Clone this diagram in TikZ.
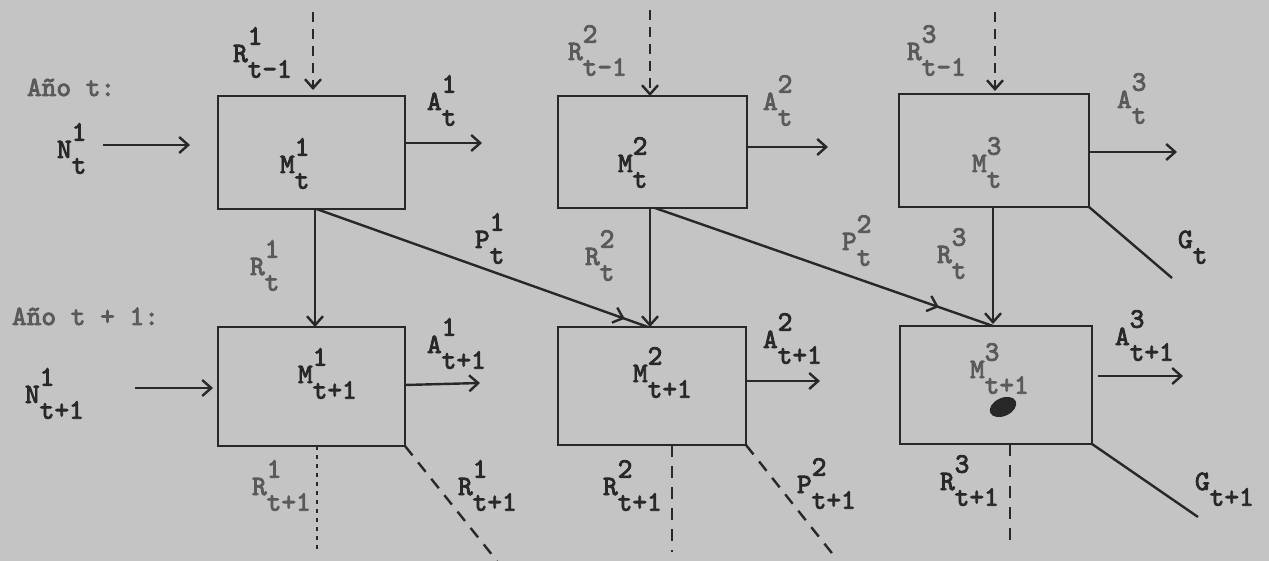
\documentclass[tikz,border=0pt]{standalone}
\usepackage{fontspec}
\newfontfamily\twfont[FakeBold=3]{lmmono10-regular.otf}
\usetikzlibrary{arrows.meta,decorations.markings}
\definecolor{paper}{RGB}{196,196,196}
\definecolor{ink}{RGB}{40,40,40}
\definecolor{inkg}{RGB}{90,90,90}
\newcommand{\tlab}[3]{#1\rlap{\raisebox{0.62em}{#2}}\raisebox{-0.56em}{#3}}
\begin{document}
\begin{tikzpicture}[x=1pt,y=-1pt,
  box/.style={draw=ink, line width=2.6pt, inner sep=0pt, outer sep=0pt},
  lab/.style={anchor=base west, inner sep=0pt, outer sep=0pt, text=ink,
    font=\twfont\fontsize{28pt}{32pt}\selectfont},
  tip/.style={-{Straight Barb[length=9pt,width=16pt]}},
  flow/.style={draw=ink, line width=2.4pt, tip},
  plain/.style={draw=ink, line width=2.4pt},
  dflow/.style={flow, dash pattern=on 10pt off 7pt},
  dline/.style={plain, dash pattern=on 12pt off 9pt},
  dotline/.style={plain, dash pattern=on 4pt off 5pt},
  midarrow/.style={decoration={markings, mark=at position #1 with
    {\arrow{Straight Barb[length=9pt,width=16pt]}}}, postaction=decorate}]
\useasboundingbox[fill=paper] (0,0) rectangle (1269,561);

% boxes
\node[box, minimum width=187pt, minimum height=113pt] (b1t) at (311.5,152.5) {};
\node[box, minimum width=189pt, minimum height=112pt] (b2t) at (652.5,152) {};
\node[box, minimum width=190pt, minimum height=113pt] (b3t) at (994,150.5) {};
\node[box, minimum width=187pt, minimum height=119pt] (b1b) at (311.5,386.5) {};
\node[box, minimum width=188pt, minimum height=118pt] (b2b) at (652,386) {};
\node[box, minimum width=192pt, minimum height=118pt] (b3b) at (996,385) {};

% labels, year t
\node[lab, text=inkg] (yt) at (27,96) {Año t:};
\node[lab] (n1t) at (57,158) {\tlab{N}{1}{t}};
\node[lab] (r1tm) at (233,62) {\tlab{R}{1}{t-1}};
\node[lab] (a1t) at (427,110) {\tlab{A}{1}{t}};
\node[lab] (m1t) at (280,173) {\tlab{M}{1}{t}};
\node[lab, text=inkg] (r2tm) at (568,60) {\tlab{R}{2}{t-1}};
\node[lab, text=inkg] (a2t) at (763,110) {\tlab{A}{2}{t}};
\node[lab] (m2t) at (618,172) {\tlab{M}{2}{t}};
\node[lab, text=inkg] (r3tm) at (907,60) {\tlab{R}{3}{t-1}};
\node[lab, text=inkg] (a3t) at (1117,108) {\tlab{A}{3}{t}};
\node[lab, text=inkg] (m3t) at (972,172) {\tlab{M}{3}{t}};
\node[lab] (gt) at (1178,248) {\tlab{G}{}{t}};
\node[lab, text=inkg] (r1t) at (250,275) {\tlab{R}{1}{t}};
\node[lab] (p1t) at (475,248) {\tlab{P}{1}{t}};
\node[lab, text=inkg] (r2t) at (585,265) {\tlab{R}{2}{t}};
\node[lab, text=inkg] (p2t) at (842,250) {\tlab{P}{2}{t}};
\node[lab, text=inkg] (r3t) at (937,263) {\tlab{R}{3}{t}};

% labels, year t+1
\node[lab, text=inkg] (yt1) at (12,325) {Año t + 1:};
\node[lab] (n1t1) at (25,403) {\tlab{N}{1}{t+1}};
\node[lab] (m1t1) at (298,383) {\tlab{M}{1}{t+1}};
\node[lab] (a1t1) at (427,353) {\tlab{A}{1}{t+1}};
\node[lab] (m2t1) at (633,382) {\tlab{M}{2}{t+1}};
\node[lab] (a2t1) at (763,348) {\tlab{A}{2}{t+1}};
\node[lab, text=inkg] (m3t1) at (970,378) {\tlab{M}{3}{t+1}};
\node[lab] (a3t1) at (1115,345) {\tlab{A}{3}{t+1}};
\node[lab, text=inkg] (r1t1) at (252,495) {\tlab{R}{1}{t+1}};
\node[lab] (p1t1) at (458,495) {\tlab{R}{1}{t+1}};
\node[lab] (r2t1) at (603,495) {\tlab{R}{2}{t+1}};
\node[lab] (p2t1) at (797,493) {\tlab{P}{2}{t+1}};
\node[lab] (r3t1) at (940,490) {\tlab{R}{3}{t+1}};
\node[lab] (gt1) at (1195,490) {\tlab{G}{}{t+1}};

% ink blot
\fill[ink, rotate around={25:(1003,407)}] (1003,407) ellipse [x radius=14pt, y radius=9pt];

% free ends
\coordinate (ns) at (103,145);   \coordinate (ne) at (190,145);
\coordinate (ns1) at (135,388);  \coordinate (ne1) at (213,388);
\coordinate (a1e) at (482,143);  \coordinate (a2e) at (828,147);
\coordinate (a3e) at (1177,152);
\coordinate (a1e1) at (480,383); \coordinate (a2e1) at (820,381);
\coordinate (a3s1) at (1098,376); \coordinate (a3e1) at (1183,376);
\coordinate (ge) at (1172,278);  \coordinate (ge1) at (1198,517);
\coordinate (d1s) at (313,12);   \coordinate (d2s) at (650,10);
\coordinate (d3s) at (995,12);
\coordinate (v1e) at (317,550);  \coordinate (v2e) at (672,552);
\coordinate (v3e) at (1010,548);
\coordinate (q1e) at (497,561);  \coordinate (q2e) at (835,557);

% inflows
\draw[flow] (ns) -- (ne);
\draw[flow] (ns1) -- (ne1);
\draw[dflow, shorten >=6pt] (d1s) -- ([xshift=1.5pt]b1t.north);
\draw[dflow] (d2s) -- ([xshift=-2.5pt]b2t.north);
\draw[dflow, shorten >=3pt] (d3s) -- ([xshift=1pt]b3t.north);

% outflows
\draw[flow] ([yshift=9.5pt]b1t.east) -- (a1e);
\draw[flow] ([yshift=5pt]b2t.east) -- (a2e);
\draw[flow] ([yshift=-1.5pt]b3t.east) -- (a3e);
\draw[plain] (b3t.south east) -- (ge);
\draw[flow] ([yshift=1.5pt]b1b.east) -- (a1e1);
\draw[flow] ([yshift=5pt]b2b.east) -- (a2e1);
\draw[flow] (a3s1) -- (a3e1);
\draw[plain] (b3b.south east) -- (ge1);

% transitions between years
\draw[flow] ([xshift=3.5pt]b1t.south) -- ([xshift=3.5pt]b1b.north);
\draw[flow] ([xshift=-2.5pt]b2t.south) -- ([xshift=-2pt]b2b.north);
\draw[flow, shorten >=2pt] ([xshift=-1pt]b3t.south) -- ([xshift=-3pt]b3b.north);
\draw[plain, midarrow=0.93] ([xshift=5pt]b1t.south) -- ([xshift=-4pt]b2b.north);
\draw[plain, midarrow=0.84] ([xshift=2.5pt]b2t.south) -- ([xshift=-3pt]b3b.north);

% next year outflows (dashed)
\draw[dotline] ([xshift=5.5pt]b1b.south) -- (v1e);
\draw[dline] ([xshift=20pt]b2b.south) -- (v2e);
\draw[dline] ([xshift=14pt]b3b.south) -- (v3e);
\draw[dline] (b1b.south east) -- (q1e);
\draw[dline] (b2b.south east) -- (q2e);
\end{tikzpicture}
\end{document}
